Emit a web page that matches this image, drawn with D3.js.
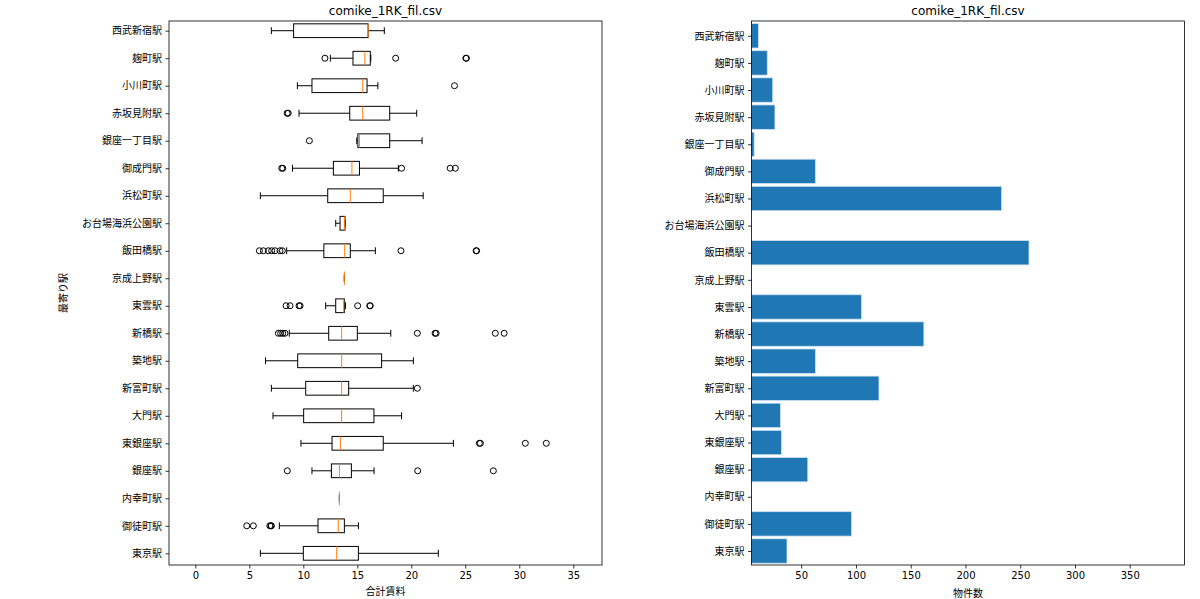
<!DOCTYPE html>
<html><head><meta charset="utf-8">
<script src="https://cdn.jsdelivr.net/npm/d3@7"></script>
<style>
html,body{margin:0;padding:0;background:#fff;}
text{font-family:"DejaVu Sans","Noto Sans CJK JP",sans-serif;fill:#000;}
</style></head>
<body>
<svg id="chart" width="1200" height="599"></svg>
<script>
const stations = ["西武新宿駅","麹町駅","小川町駅","赤坂見附駅","銀座一丁目駅","御成門駅","浜松町駅","お台場海浜公園駅","飯田橋駅","京成上野駅","東雲駅","新橋駅","築地駅","新富町駅","大門駅","東銀座駅","銀座駅","内幸町駅","御徒町駅","東京駅"];
const whiskerLow  = [7.04,12.5,9.45,9.6,14.95,9.0,6.02,13.0,8.46,13.8,12.07,8.7,6.5,7.04,7.19,9.78,10.8,13.34,7.78,6.02];
const q1          = [9.1,14.6,10.8,14.3,15.05,12.78,12.26,13.4,11.9,13.8,13.0,12.35,9.48,10.22,10.03,12.66,12.6,13.34,11.36,10.0];
const medians     = [16.0,15.7,15.5,15.5,15.2,14.5,14.35,13.8,13.83,13.8,13.74,13.55,13.55,13.55,13.55,13.43,13.34,13.34,13.24,13.09];
const q3          = [16.0,16.2,15.9,18.0,18.0,15.2,17.4,13.86,14.35,13.8,13.8,15.0,17.25,14.2,16.54,17.4,14.45,13.34,13.8,15.1];
const whiskerHigh = [17.5,16.25,16.9,20.5,21.0,18.8,21.1,13.86,16.67,13.8,13.9,18.1,20.19,20.19,19.1,23.9,16.55,13.34,15.1,22.5];
const outliers = [
  [],
  [12.0,18.55,25.05,25.1],
  [24.0],
  [8.5,8.6],
  [10.56],
  [8.0,8.1,19.1,23.6,24.08],
  [],
  [],
  [5.93,6.3,6.76,7.07,7.38,7.84,8.06,19.04,26.0,26.05],
  [],
  [8.4,8.77,9.6,9.7,15.03,16.15,16.2],
  [7.69,7.9,8.09,8.3,20.56,22.2,22.3,27.78,28.6],
  [],
  [20.56],
  [],
  [26.3,26.4,30.56,32.5],
  [8.52,20.59,27.6],
  [],
  [4.76,5.37,6.9,7.0,7.04],
  []
];
const counts = [11,19,24,26,7,63,233,4,258,1,105,162,63,121,31,32,56,1,96,37];
const leftTicks = [0,5,10,15,20,25,30,35];
const rightTicks = [50,100,150,200,250,300,350];
const titleText = "comike_1RK_fil.csv";
const leftXLabel = "合計賃料";
const leftYLabel = "最寄り駅";
const rightXLabel = "物件数";

const svg = d3.select("#chart");
const topY = 21, bottomY = 565;
const L = {x0:169, x1:602};
const R = {x0:751.5, x1:1184.5};

// ---------- Left: boxplot ----------
const xL = d3.scaleLinear().domain([-2.44, 37.66]).range([L.x0, L.x1]);
const yL = d3.scaleLinear().domain([-0.353, 19.425]).range([topY, bottomY]);
const gL = svg.append("g");
const boxH = 0.5, capH = 0.25;
const unitL = yL(1) - yL(0);

stations.forEach((s,i)=>{
  const yc = yL(i);
  const g = gL.append("g");
  g.append("line").attr("x1",xL(whiskerLow[i])).attr("x2",xL(q1[i])).attr("y1",yc).attr("y2",yc).attr("stroke","#000").attr("stroke-width",1);
  g.append("line").attr("x1",xL(q3[i])).attr("x2",xL(whiskerHigh[i])).attr("y1",yc).attr("y2",yc).attr("stroke","#000").attr("stroke-width",1);
  [whiskerLow[i], whiskerHigh[i]].forEach(v=>{
    g.append("line").attr("x1",xL(v)).attr("x2",xL(v)).attr("y1",yc-capH*unitL/2).attr("y2",yc+capH*unitL/2).attr("stroke","#000").attr("stroke-width",1);
  });
  g.append("rect").attr("x",xL(q1[i])).attr("y",yc-boxH*unitL/2).attr("width",Math.max(0,xL(q3[i])-xL(q1[i]))).attr("height",boxH*unitL)
    .attr("fill","none").attr("stroke","#000").attr("stroke-width",1);
  g.append("line").attr("x1",xL(medians[i])).attr("x2",xL(medians[i])).attr("y1",yc-boxH*unitL/2).attr("y2",yc+boxH*unitL/2).attr("stroke","#ff7f0e").attr("stroke-width",1);
  outliers[i].forEach(v=>{
    g.append("circle").attr("cx",xL(v)).attr("cy",yc).attr("r",3).attr("fill","none").attr("stroke","#000").attr("stroke-width",1);
  });
});

gL.append("rect").attr("x",L.x0).attr("y",topY).attr("width",L.x1-L.x0).attr("height",bottomY-topY).attr("fill","none").attr("stroke","#000").attr("stroke-width",0.8);
const axL = d3.axisBottom(xL).tickValues(leftTicks).tickSize(3.5).tickPadding(3.5).tickFormat(d3.format("d"));
const gxL = svg.append("g").attr("transform",`translate(0,${bottomY})`).call(axL);
gxL.select(".domain").remove();
gxL.selectAll("text").attr("font-size",10).style("font-family","DejaVu Sans");
gxL.selectAll("line").attr("stroke-width",0.8);
const axYL = d3.axisLeft(yL).tickValues(d3.range(stations.length)).tickSize(3.5).tickPadding(3.5).tickFormat(i=>stations[i]);
const gyL = svg.append("g").attr("transform",`translate(${L.x0},0)`).call(axYL);
gyL.select(".domain").remove();
gyL.selectAll("text").attr("font-size",10).style("font-family","Noto Sans CJK JP");
gyL.selectAll("line").attr("stroke-width",0.8);

svg.append("text").attr("x",(L.x0+L.x1)/2).attr("y",15).attr("text-anchor","middle").attr("font-size",12).text(titleText);
svg.append("text").attr("x",(L.x0+L.x1)/2).attr("y",595).attr("text-anchor","middle").attr("font-size",10).style("font-family","Noto Sans CJK JP").text(leftXLabel);
svg.append("text").attr("transform",`translate(67,${(topY+bottomY)/2}) rotate(-90)`).attr("text-anchor","middle").attr("font-size",10).style("font-family","Noto Sans CJK JP").text(leftYLabel);

// ---------- Right: barh ----------
const xR = d3.scaleLinear().domain([4.6, 400]).range([R.x0, R.x1]);
const yR = d3.scaleLinear().domain([-0.546, 19.517]).range([topY, bottomY]);
const unitR = yR(1) - yR(0);
const barH = 0.9;
svg.append("clipPath").attr("id","clipR").append("rect").attr("x",R.x0).attr("y",topY).attr("width",R.x1-R.x0).attr("height",bottomY-topY);
const gR = svg.append("g").attr("clip-path","url(#clipR)");
gR.selectAll("rect.bar").data(counts).join("rect").attr("class","bar")
  .attr("x",xR(0)).attr("y",(d,i)=>yR(i)-barH*unitR/2)
  .attr("width",d=>Math.max(0,xR(d)-xR(0))).attr("height",barH*unitR)
  .attr("fill","#1f77b4").attr("stroke","#cfe1ef").attr("stroke-width",0.8);

svg.append("rect").attr("x",R.x0).attr("y",topY).attr("width",R.x1-R.x0).attr("height",bottomY-topY).attr("fill","none").attr("stroke","#000").attr("stroke-width",0.8);
const axR = d3.axisBottom(xR).tickValues(rightTicks).tickSize(3.5).tickPadding(3.5).tickFormat(d3.format("d"));
const gxR = svg.append("g").attr("transform",`translate(0,${bottomY})`).call(axR);
gxR.select(".domain").remove();
gxR.selectAll("text").attr("font-size",10).style("font-family","DejaVu Sans");
gxR.selectAll("line").attr("stroke-width",0.8);
const axYR = d3.axisLeft(yR).tickValues(d3.range(stations.length)).tickSize(3.5).tickPadding(3.5).tickFormat(i=>stations[i]);
const gyR = svg.append("g").attr("transform",`translate(${R.x0},0)`).call(axYR);
gyR.select(".domain").remove();
gyR.selectAll("text").attr("font-size",10).style("font-family","Noto Sans CJK JP");
gyR.selectAll("line").attr("stroke-width",0.8);

svg.append("text").attr("x",(R.x0+R.x1)/2).attr("y",15).attr("text-anchor","middle").attr("font-size",12).text(titleText);
svg.append("text").attr("x",(R.x0+R.x1)/2).attr("y",597).attr("text-anchor","middle").attr("font-size",10).style("font-family","Noto Sans CJK JP").text(rightXLabel);
</script>
</body></html>
